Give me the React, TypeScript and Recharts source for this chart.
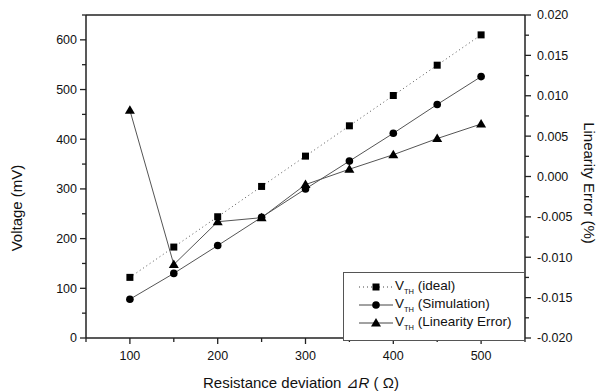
import React from "react";
import {
  ComposedChart,
  Line,
  XAxis,
  YAxis,
  Legend,
  ReferenceLine,
  Label,
} from "recharts";

const resistance = [100, 150, 200, 250, 300, 350, 400, 450, 500];
const idealMv = [122, 183, 244, 305, 366, 427, 488, 549, 610];
const simulationMv = [78, 130, 186, 243, 300, 356, 412, 470, 526];
const linearityError = [
  0.0082, -0.0109, -0.0056, -0.0051, -0.001, 0.0009, 0.0027, 0.0047, 0.0065,
];

const xTicks = [50, 100, 150, 200, 250, 300, 350, 400, 450, 500, 550];
const leftTicks = [0, 50, 100, 150, 200, 250, 300, 350, 400, 450, 500, 550, 600, 650];
const rightTicks = [
  -0.02, -0.0175, -0.015, -0.0125, -0.01, -0.0075, -0.005, -0.0025, 0, 0.0025,
  0.005, 0.0075, 0.01, 0.0125, 0.015, 0.0175, 0.02,
];

const data = resistance.map((r, i) => ({
  r,
  ideal: idealMv[i],
  sim: simulationMv[i],
  err: linearityError[i],
}));

const FONT = "'Liberation Sans', Arial, sans-serif";
const AXIS = "#222";

function LeftTick({ x, y, payload }: any) {
  const v = payload.value;
  const major = v % 100 === 0 && v <= 600;
  return (
    <g>
      <line x1={x - (major ? 6 : 4)} x2={x} y1={y} y2={y} stroke={AXIS} strokeWidth={1.3} />
      {major && (
        <text x={x - 9} y={y} dy="0.35em" textAnchor="end" fontSize={12.5} fontFamily={FONT} fill="#111">
          {v}
        </text>
      )}
    </g>
  );
}

function RightTick({ x, y, payload }: any) {
  const v = payload.value;
  const major = Math.abs(Math.round(v * 10000) % 50) === 0;
  return (
    <g>
      <line x1={x} x2={x + (major ? 6 : 4)} y1={y} y2={y} stroke={AXIS} strokeWidth={1.3} />
      {major && (
        <text x={x + 12} y={y} dy="0.35em" textAnchor="start" fontSize={12.5} fontFamily={FONT} fill="#111">
          {v.toFixed(3)}
        </text>
      )}
    </g>
  );
}

function BottomTick({ x, y, payload }: any) {
  const v = payload.value;
  const major = v % 100 === 0;
  return (
    <g>
      <line x1={x} x2={x} y1={y} y2={y + (major ? 6 : 4)} stroke={AXIS} strokeWidth={1.3} />
      {major && (
        <text x={x} y={y + 22} textAnchor="middle" fontSize={12.5} fontFamily={FONT} fill="#111">
          {v}
        </text>
      )}
    </g>
  );
}

function SquareDot({ cx, cy }: any) {
  if (cx == null || cy == null) return null;
  return <rect x={cx - 3.5} y={cy - 3.5} width={7} height={7} fill="#000" />;
}

function CircleDot({ cx, cy }: any) {
  if (cx == null || cy == null) return null;
  return <circle cx={cx} cy={cy} r={3.8} fill="#000" />;
}

function TriangleDot({ cx, cy }: any) {
  if (cx == null || cy == null) return null;
  return <path d={`M${cx},${cy - 5} L${cx + 5},${cy + 3.5} L${cx - 5},${cy + 3.5} Z`} fill="#000" />;
}

const legendRows = [
  { name: "(ideal)", dash: "1 3", marker: "square" },
  { name: "(Simulation)", dash: undefined, marker: "circle" },
  { name: "(Linearity Error)", dash: undefined, marker: "triangle" },
];

function LegendBox() {
  return (
    <div
      style={{
        width: 180,
        height: 62,
        border: "1px solid #555",
        background: "#fff",
        boxSizing: "content-box",
        fontFamily: FONT,
        fontSize: 13.5,
        color: "#111",
        paddingTop: 5,
      }}
    >
      {legendRows.map((row) => (
        <div key={row.name} style={{ display: "flex", alignItems: "center", height: 18 }}>
          <svg width={51} height={14} style={{ flex: "none" }}>
            <line x1={15} x2={49} y1={7} y2={7} stroke="#444" strokeWidth={1} strokeDasharray={row.dash} />
            {row.marker === "square" && <rect x={28.5} y={3.5} width={7} height={7} fill="#000" />}
            {row.marker === "circle" && <circle cx={32} cy={7} r={3.8} fill="#000" />}
            {row.marker === "triangle" && <path d="M32,2 L37,10.5 L27,10.5 Z" fill="#000" />}
          </svg>
          <span style={{ whiteSpace: "nowrap" }}>
            V<sub style={{ fontSize: 7.5, verticalAlign: "-4px" }}>TH</sub> {row.name}
          </span>
        </div>
      ))}
    </div>
  );
}

export default function App() {
  return (
    <div style={{ position: "absolute", left: 0, top: 0, width: 598, height: 392, background: "#fff" }}>
      <ComposedChart width={598} height={392} data={data} margin={{ top: 15, right: 0, bottom: 0, left: 0 }}>
        <XAxis
          dataKey="r"
          type="number"
          domain={[50, 550]}
          ticks={xTicks}
          interval={0}
          height={54}
          tickSize={0}
          tickMargin={0}
          tickLine={false}
          tick={<BottomTick />}
          axisLine={{ stroke: AXIS, strokeWidth: 1.5 }}
        >
          <Label
            content={() => (
              <text x={301} y={388} textAnchor="middle" fontSize={15} fontFamily={FONT} fill="#111">
                Resistance deviation ⊿<tspan fontStyle="italic">R</tspan> ( Ω)
              </text>
            )}
          />
        </XAxis>
        <YAxis
          yAxisId="left"
          orientation="left"
          width={86}
          domain={[0, 650]}
          ticks={leftTicks}
          interval={0}
          tickSize={0}
          tickMargin={0}
          tickLine={false}
          tick={<LeftTick />}
          axisLine={{ stroke: AXIS, strokeWidth: 1.5 }}
        >
          <Label
            content={() => (
              <text
                x={0}
                y={0}
                transform="translate(22,208) rotate(-90)"
                textAnchor="middle"
                fontSize={15}
                fontFamily={FONT}
                fill="#111"
              >
                Voltage (mV)
              </text>
            )}
          />
        </YAxis>
        <YAxis
          yAxisId="right"
          orientation="right"
          width={73}
          domain={[-0.02, 0.02]}
          ticks={rightTicks}
          interval={0}
          tickSize={0}
          tickMargin={0}
          tickLine={false}
          tick={<RightTick />}
          axisLine={{ stroke: AXIS, strokeWidth: 1.5 }}
        >
          <Label
            content={() => (
              <text
                x={0}
                y={0}
                transform="translate(584,183) rotate(90)"
                textAnchor="middle"
                fontSize={15}
                fontFamily={FONT}
                fill="#111"
              >
                Linearity Error (%)
              </text>
            )}
          />
        </YAxis>
        <ReferenceLine yAxisId="left" y={650} stroke={AXIS} strokeWidth={1.5} />
        <Line
          yAxisId="left"
          dataKey="ideal"
          stroke="#555"
          strokeWidth={1}
          strokeDasharray="1 3"
          dot={<SquareDot />}
          isAnimationActive={false}
        />
        <Line
          yAxisId="left"
          dataKey="sim"
          stroke="#555"
          strokeWidth={1}
          dot={<CircleDot />}
          isAnimationActive={false}
        />
        <Line
          yAxisId="right"
          dataKey="err"
          stroke="#555"
          strokeWidth={1}
          dot={<TriangleDot />}
          isAnimationActive={false}
        />
        <Legend
          layout="vertical"
          align="center"
          verticalAlign="middle"
          content={() => <LegendBox />}
          wrapperStyle={{ left: 343, top: 272, width: 182, height: 68 }}
        />
      </ComposedChart>
    </div>
  );
}
